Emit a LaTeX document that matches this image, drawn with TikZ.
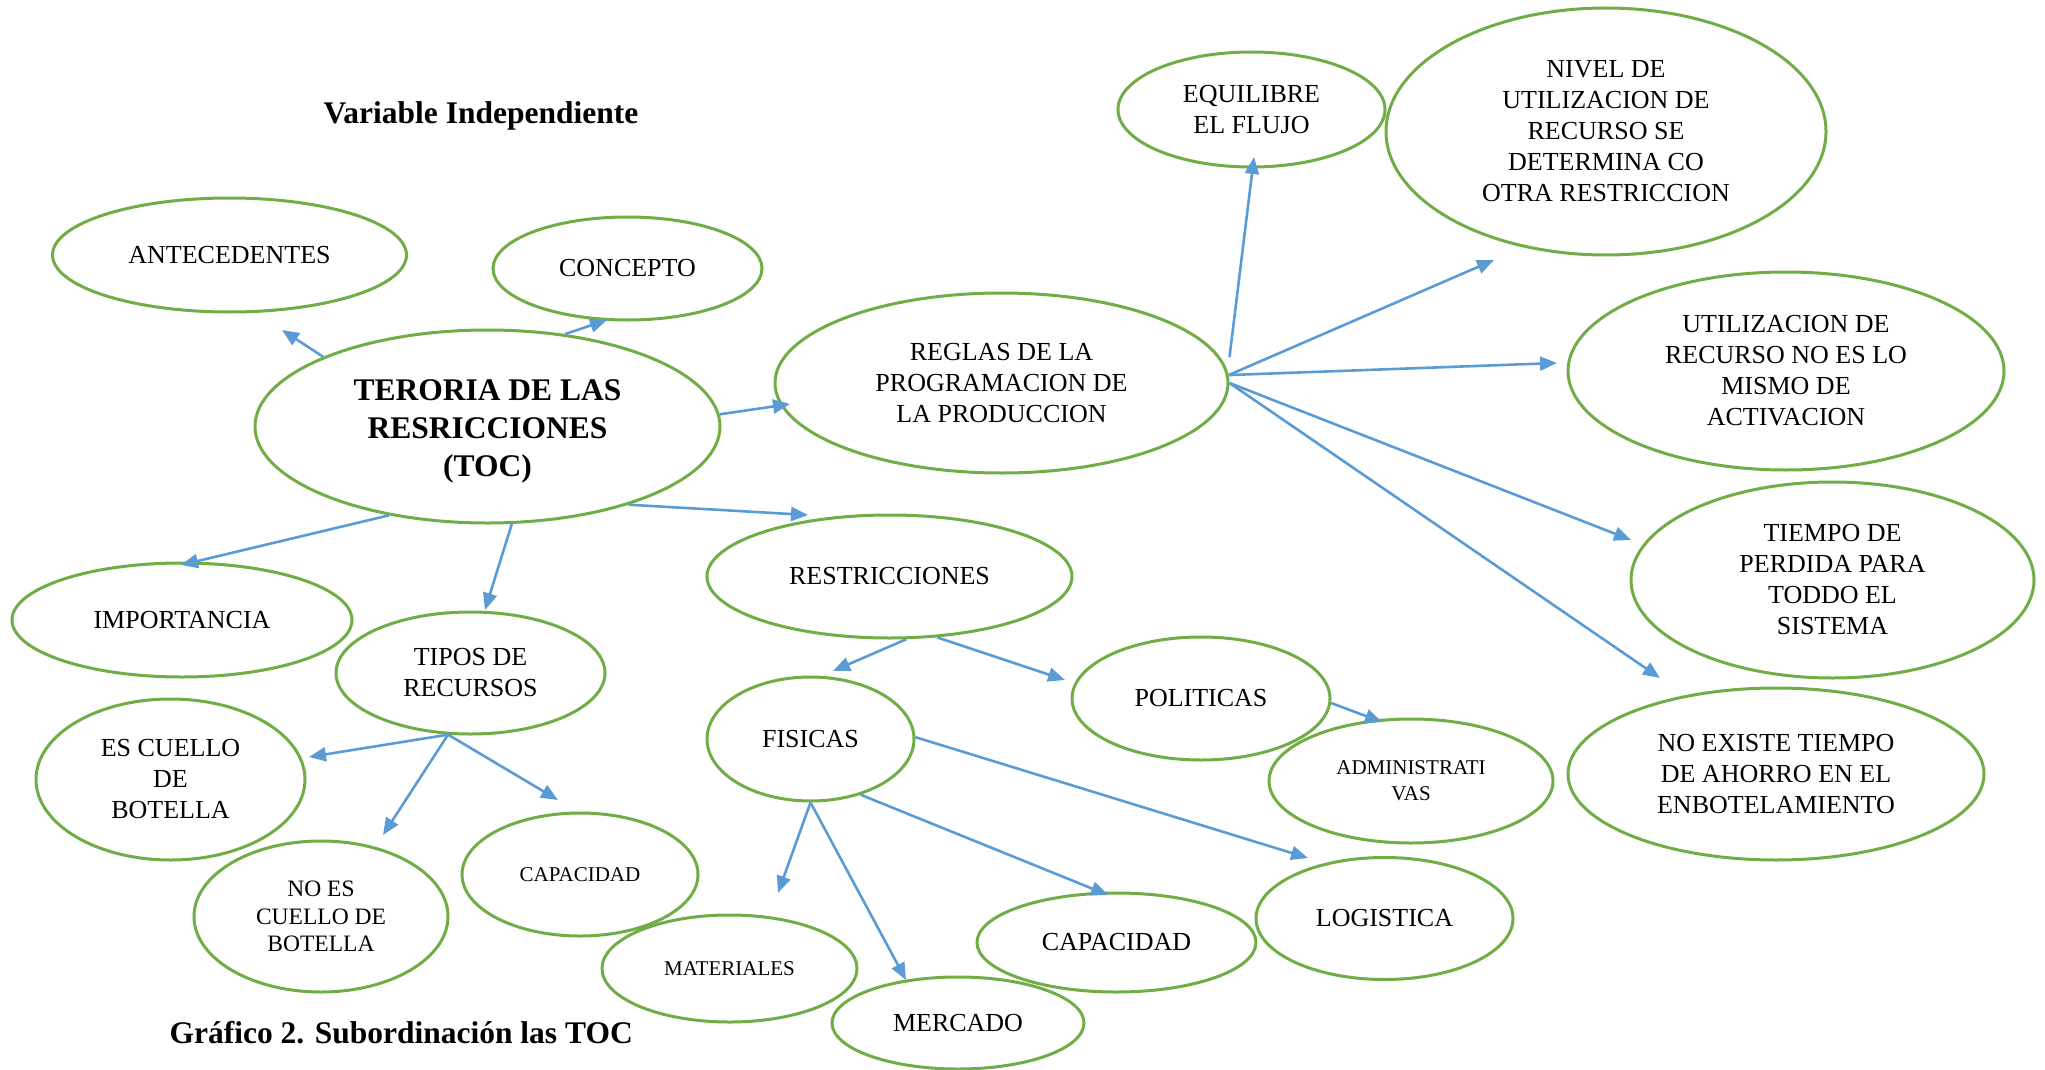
\documentclass[tikz,border=0pt]{standalone}
\usepackage{fontspec}
\setmainfont{Liberation Serif}
\usetikzlibrary{arrows.meta,shapes.geometric}
\definecolor{leafgreen}{HTML}{70AD47}
\definecolor{skyblue}{HTML}{5B9BD5}
\begin{document}
\begin{tikzpicture}[x=1pt,y=-1pt,
  bubble/.style={ellipse, draw=leafgreen, line width=3pt, inner sep=0pt,
    align=center, font=\fontsize{26}{31}\selectfont},
  sz/.style 2 args={minimum width=#1, minimum height=#2},
  smalltext/.style={font=\fontsize{21}{25.7}\selectfont},
  arr/.style={draw=skyblue, line width=2.6pt,
    -{Triangle[length=17pt,width=14pt]}},
  heading/.style={anchor=base west, font=\fontsize{31.5}{37}\selectfont\bfseries},
]
\useasboundingbox (0,0) rectangle (2045,1070);

% headings
\node[heading] (vind) at (320,124) {Variable Independiente};
\node[heading] (graf) at (166,1043) {Gráfico 2. Subordinación las TOC};

% central concept and first level
\node[bubble, sz={465}{193}, font=\fontsize{31.5}{38}\selectfont\bfseries] (toc) at (487.5,426.5)
  {\rule{0pt}{31pt}TERORIA DE LAS\\RESRICCIONES\\(TOC)};
\node[bubble, sz={354}{114}] (ante) at (229.5,255) {ANTECEDENTES};
\node[bubble, sz={269}{103}] (conc) at (627.5,268.5) {CONCEPTO};
\node[bubble, sz={453}{180}] (reg) at (1001.5,383) {REGLAS DE LA\\PROGRAMACION DE\\LA PRODUCCION};
\node[bubble, sz={340}{114}] (imp) at (182,620) {IMPORTANCIA};
\node[bubble, sz={269}{122}] (tip) at (470.5,673) {TIPOS DE\\RECURSOS};
\node[bubble, sz={365}{123}] (res) at (889.5,576.5) {RESTRICCIONES};

% production scheduling rules
\node[bubble, sz={267}{115}] (equ) at (1251.5,109.5) {EQUILIBRE\\EL FLUJO};
\node[bubble, sz={440}{247}] (niv) at (1606,131.5)
  {NIVEL DE\\UTILIZACION DE\\RECURSO SE\\DETERMINA CO\\OTRA RESTRICCION};
\node[bubble, sz={436}{198}] (uti) at (1786,371)
  {UTILIZACION DE\\RECURSO NO ES LO\\MISMO DE\\ACTIVACION};
\node[bubble, sz={403}{196}] (tie) at (1832.5,580)
  {TIEMPO DE\\PERDIDA PARA\\TODDO EL\\SISTEMA};
\node[bubble, sz={416}{172}] (noex) at (1776,774)
  {NO EXISTE TIEMPO\\DE AHORRO EN EL\\ENBOTELAMIENTO};

% resource types
\node[bubble, sz={269}{161}] (esc) at (170.5,779.5) {ES CUELLO\\DE\\BOTELLA};
\node[bubble, sz={254}{151}, font=\fontsize{23.5}{27.5}\selectfont] (noes) at (321,916.5)
  {NO ES\\CUELLO DE\\BOTELLA};
\node[bubble, sz={236}{123}, smalltext] (capa) at (580,874.5) {CAPACIDAD};

% constraints
\node[bubble, sz={207}{124}] (fis) at (810.5,739) {FISICAS};
\node[bubble, sz={258}{123}] (pol) at (1201,698.5) {POLITICAS};
\node[bubble, sz={284}{124}, smalltext] (adm) at (1411,781) {ADMINISTRATI\\VAS};
\node[bubble, sz={257}{122}] (log) at (1384.5,918.5) {LOGISTICA};
\node[bubble, sz={279}{99}] (capb) at (1116.5,942.5) {CAPACIDAD};
\node[bubble, sz={255}{107}, smalltext] (mat) at (729.5,968.5) {MATERIALES};
\node[bubble, sz={252}{92}] (mer) at (958,1023) {MERCADO};

% arrow tips
\coordinate (tAnt) at (282,330);
\coordinate (tCon) at (607,320);
\coordinate (tReg) at (790,404);
\coordinate (tRes) at (808,515);
\coordinate (tImp) at (181,565);
\coordinate (tTip) at (485,610);
\coordinate (tEsc) at (309,757);
\coordinate (tNoes) at (383,835);
\coordinate (tCapA) at (558,800);
\coordinate (tFis) at (833,671);
\coordinate (tPol) at (1065,680);
\coordinate (tAdm) at (1382,722);
\coordinate (tLog) at (1308,858);
\coordinate (tCapB) at (1108,895);
\coordinate (tMat) at (778,893);
\coordinate (tMer) at (906,980);
\coordinate (tEqu) at (1254,157);
\coordinate (tNiv) at (1494,260);
\coordinate (tUti) at (1557,363);
\coordinate (tTie) at (1631,540);
\coordinate (tNoex) at (1660,678);

% connectors
\draw[arr] (toc.157) -- (tAnt);
\draw[arr] (toc.50) -- (tCon);
\draw[arr] (toc.3) -- (tReg);
\draw[arr] (toc.331) -- (tRes);
\draw[arr] (toc.222) -- (tImp);
\draw[arr] (toc.284) -- (tTip);

\draw[arr] (tip.250) -- (tEsc);
\draw[arr] (tip.250) -- (tNoes);
\draw[arr] (tip.250) -- (tCapA);

\draw[arr] (res.285) -- (tFis);
\draw[arr] (res.308) -- (tPol);
\draw[arr] (pol.358) -- (tAdm);

\draw[arr] (fis.1) -- (tLog);
\draw[arr] (fis.312) -- (tCapB);
\draw[arr] (fis.270) -- (tMat);
\draw[arr] (fis.270) -- (tMer);

\draw[arr] ([yshift=26pt]reg.east) -- (tEqu);
\draw[arr] (reg.2) -- (tNiv);
\draw[arr] (reg.2) -- (tUti);
\draw[arr] (reg.0) -- (tTie);
\draw[arr] (reg.0) -- (tNoex);
\end{tikzpicture}
\end{document}
